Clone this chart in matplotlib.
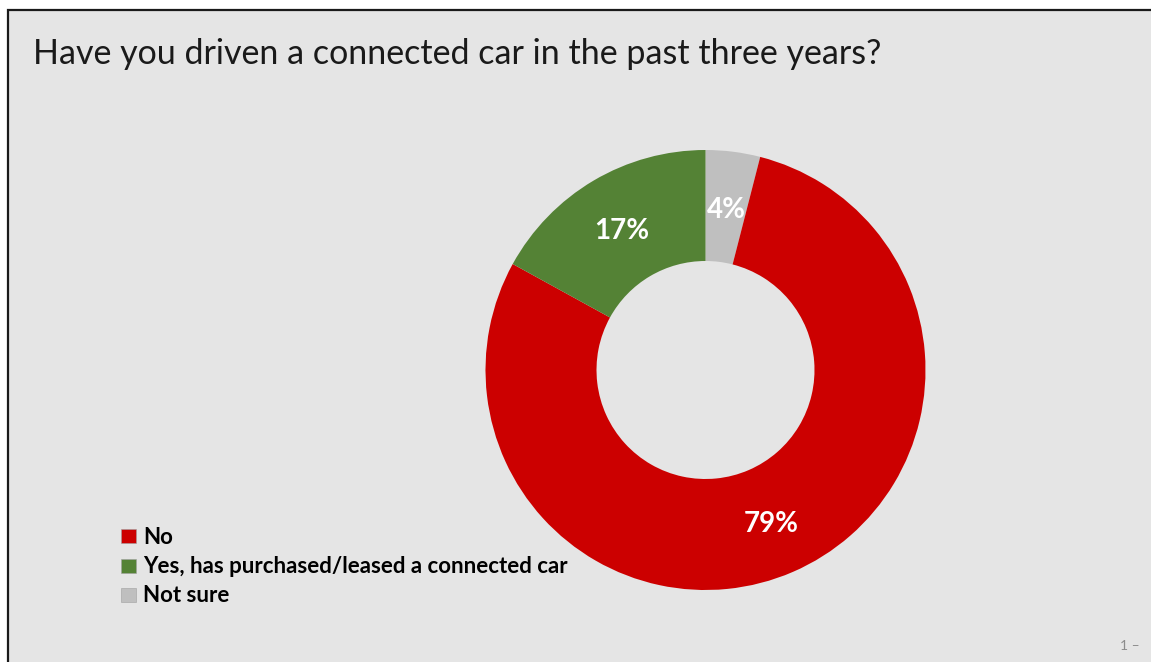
import matplotlib
matplotlib.use("Agg")
import matplotlib.pyplot as plt
from matplotlib.patches import Rectangle

# Survey answers
categories = ["No", "Yes, has purchased/leased a connected car", "Not sure"]
shares = [79, 17, 4]
colors = ["#cc0000", "#548235", "#bfbfbf"]
title = "Have you driven a connected car in the past three years?"
page_mark = "1 \u2013"

W, H = 1151, 662
fig = plt.figure(figsize=(W / 100, H / 100), dpi=100, facecolor="white")
ax = fig.add_axes([0, 0, 1, 1])
ax.set_xlim(0, W)
ax.set_ylim(0, H)
ax.set_aspect("equal")
ax.axis("off")

def Y(y):
    return H - y

# Slide panel with a dark frame on the top and left
ax.add_patch(Rectangle((8.5, Y(700)), W + 50, 700 - 9.5, facecolor="#e5e5e5",
                       edgecolor="#1a1a1a", linewidth=1.6, zorder=0))

ax.text(33, Y(54), title, fontsize=24.5, family="Lato", fontweight="normal",
        color="#1a1a1a", va="center", ha="left")

# Donut: clockwise from 12 o'clock -> Not sure, No, Yes
order = [2, 0, 1]
vals = [shares[i] for i in order]
cols = [colors[i] for i in order]
cx, cy, R = 705.5, Y(370), 220
wedges, _, autotexts = ax.pie(
    vals, colors=cols, startangle=90, counterclock=False,
    center=(cx, cy), radius=R, frame=True,
    wedgeprops=dict(width=111, edgecolor="none"),
    autopct=lambda p: f"{p:.0f}%", pctdistance=(R - 111 / 2) / R,
    textprops=dict(color="white", fontsize=20, fontweight="bold", family="Lato"))
for t in autotexts:
    x, y = t.get_position()
    t.set_position((x, y - 3))
ax.set_xlim(0, W)
ax.set_ylim(0, H)
ax.axis("off")

# Legend
for i, (lab, c) in enumerate(zip(categories, colors)):
    yc = 536 + i * 29.5
    ax.add_patch(Rectangle((121, Y(yc + 7)), 15, 14, facecolor=c,
                           edgecolor="#a0a0a0", linewidth=0.4))
    ax.text(143, Y(yc + 1), lab, fontsize=16, fontweight="bold", family="Lato",
            color="#000000", va="center", ha="left")

ax.text(1120, Y(646), page_mark, fontsize=10, color="#8c8c8c", family="Lato",
        va="center", ha="left")

fig.savefig("out.png", dpi=100, facecolor="white")
